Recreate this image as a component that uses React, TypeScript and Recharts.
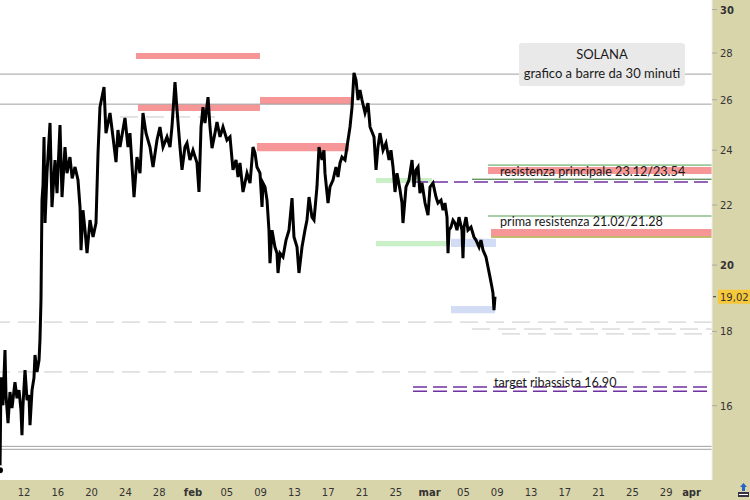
import React from "react";
import {
  ComposedChart,
  Line,
  XAxis,
  YAxis,
  CartesianGrid,
  ReferenceLine,
  ReferenceArea,
} from "recharts";

// time is in days from 1 Jan 2023 00:00 (Jan 12 = 11)
const xDomain: [number, number] = [8.16, 92.42];
const yDomain: [number, number] = [14.22, 30.46];

const xTickDays = [11, 15, 19, 23, 27, 31, 35, 39, 43, 47, 51, 55, 59, 63, 67, 71, 75, 79, 83, 87, 90];
const xTickLabels = ["12", "16", "20", "24", "28", "feb", "05", "09", "13", "17", "21", "25", "mar", "05", "09", "13", "17", "21", "25", "29", "apr"];
const yTicks = [16, 18, 20, 22, 24, 26, 28, 30];
const boldYTicks = [20, 30];
const lastPrice = 19.02;

// SOL 30 minute bars, traced as [day, price]
const solPrice: [number, number][] = [
  [8.16, 14.44], [8.28, 16.74], [8.51, 16.01], [8.75, 17.48], [8.87, 16.27], [9.11, 15.56],
  [9.34, 16.35], [9.58, 15.94], [9.93, 16.61], [10.17, 16.19], [10.41, 16.4], [10.64, 15.89],
  [10.76, 15.27], [10.88, 16.01], [11.12, 16.93], [11.36, 16.14], [11.59, 16.27], [11.71, 15.51],
  [11.95, 16.4], [12.18, 16.72], [12.3, 17.34], [12.54, 16.88], [12.78, 17.2], [12.89, 17.76],
  [13.01, 18.92], [13.13, 22.17], [13.25, 22.71], [13.37, 24.51], [13.49, 21.38], [13.72, 23.14],
  [14.08, 25.06], [14.31, 21.93], [14.67, 23.63], [14.91, 22.42], [15.26, 24.98], [15.5, 22.28],
  [15.85, 24.12], [16.09, 23.14], [16.44, 23.74], [16.7, 22.95], [17.04, 23.37], [17.39, 22.89], [17.63, 21.93],
  [17.75, 20.48], [17.98, 21.82], [18.22, 21.14], [18.46, 20.38], [18.81, 21.48], [19.17, 20.91],
  [19.52, 21.38], [19.76, 23.89], [19.99, 25.7], [20.47, 26.53], [20.7, 24.66], [21.18, 25.46],
  [21.53, 24.51], [21.89, 23.55], [22.12, 24.78], [22.36, 24.12], [22.95, 25.26], [23.31, 24.12],
  [23.54, 24.66], [24.02, 22.28], [24.37, 23.74], [24.73, 23.14], [25.08, 25.46], [25.44, 24.66],
  [25.91, 24.12], [26.27, 23.37], [26.74, 24.39], [27.09, 24.9], [27.45, 24.12], [27.92, 24.51],
  [28.28, 24.12], [28.51, 24.9], [28.87, 26.74], [29.11, 25.58], [29.46, 24.12], [29.7, 23.26],
  [30.05, 24.12], [30.29, 24.27], [30.64, 23.63], [31.0, 24.0], [31.47, 23.52], [31.71, 22.46],
  [31.95, 24.9], [32.18, 25.7], [32.42, 25.06], [32.78, 26.11], [33.01, 24.9], [33.25, 24.08],
  [33.6, 24.66], [33.84, 25.1], [34.2, 24.51], [34.55, 24.9], [35.02, 24.39], [35.38, 24.51],
  [35.73, 23.26], [36.09, 23.63], [36.33, 23.0], [36.56, 23.52], [36.92, 22.46], [37.39, 23.14],
  [37.75, 22.78], [38.1, 24.12], [38.34, 23.89], [38.57, 23.37], [38.93, 23.14], [39.17, 21.93],
  [39.28, 22.78], [39.52, 22.64], [39.76, 22.17], [39.99, 21.14], [40.11, 20.06], [40.35, 21.14],
  [40.7, 20.58], [40.94, 20.38], [41.06, 19.75], [41.3, 20.38], [41.65, 20.26], [42.01, 20.81],
  [42.36, 21.14], [42.72, 22.24], [42.95, 20.91], [43.31, 20.58], [43.54, 19.75], [43.9, 20.58],
  [44.25, 21.14], [44.49, 21.48], [44.73, 22.28], [45.08, 21.58], [45.32, 21.48], [45.67, 22.64],
  [45.91, 24.12], [46.27, 23.63], [46.5, 24.0], [46.62, 23.14], [46.98, 22.07], [47.21, 22.64],
  [47.57, 22.89], [47.92, 23.37], [48.16, 23.0], [48.4, 23.52], [48.63, 23.74], [48.99, 23.63],
  [49.22, 24.12], [49.58, 24.9], [49.82, 25.7], [50.05, 27.13], [50.29, 26.83], [50.53, 25.99],
  [50.76, 26.4], [51.0, 25.99], [51.36, 25.46], [51.71, 25.86], [51.95, 24.9], [52.42, 24.51],
  [52.66, 23.26], [52.89, 24.12], [53.13, 24.66], [53.49, 24.0], [53.84, 24.27], [54.2, 23.63],
  [54.43, 24.0], [54.67, 23.37], [54.91, 22.46], [55.14, 23.14], [55.5, 22.53], [55.73, 22.07],
  [55.85, 21.38], [56.21, 22.64], [56.56, 22.89], [56.92, 23.63], [57.15, 22.64], [57.39, 23.26],
  [57.63, 23.37], [57.86, 22.42], [58.1, 22.78], [58.46, 22.07], [58.81, 21.65], [59.05, 22.64],
  [59.4, 22.78], [59.76, 22.28], [59.99, 22.07], [60.35, 22.17], [60.59, 21.82], [60.82, 22.07],
  [61.06, 21.58], [61.18, 20.38], [61.3, 21.14], [61.53, 21.24], [61.77, 21.48], [62.01, 21.38],
  [62.24, 21.14], [62.48, 21.58], [62.83, 21.14], [62.95, 20.22], [63.07, 21.24], [63.31, 21.58],
  [63.54, 21.14], [63.9, 21.24], [64.25, 20.91], [64.49, 20.81], [64.85, 20.58], [65.08, 20.81],
  [65.32, 20.48], [65.67, 20.26], [65.91, 19.94], [66.15, 19.62], [66.38, 19.31], [66.5, 19.13],
  [66.62, 18.62], [66.74, 19.02],
];

// full width horizontal levels
const grayLevels = [27.08, 25.82, 15.0, 14.93];
const dashedLevels = [18.27, 16.88];
// partial levels: [from day, to day, price]
const shortDashed: [number, number, number][] = [
  [22.36, 33.6, 25.3],
  [64.02, 92.42, 18.07],
  [67.57, 92.42, 17.93],
];
const greenLevels: [number, number][] = [[65.91, 23.44], [65.91, 21.62]];
const darkGreenLevels: [number, number][] = [[64.02, 22.92]];
const oliveLevels: [number, number][] = [[66.27, 20.91]];
const purpleLevels: [number, number][] = [[57.15, 22.82], [57.04, 16.48], [57.04, 16.37]];

// zones: [from day, to day, low, high]
const redZones: [number, number, number, number][] = [
  [24.25, 38.93, 27.74, 28.0],
  [24.49, 38.93, 25.54, 25.82],
  [38.93, 50.05, 25.82, 26.11],
  [38.57, 49.46, 23.96, 24.28],
  [65.91, 92.42, 23.11, 23.37],
  [66.27, 92.42, 20.94, 21.18],
];
const greenZones: [number, number, number, number][] = [
  [52.66, 59.28, 22.78, 22.96],
  [52.66, 61.06, 20.61, 20.78],
];
const blueZones: [number, number, number, number][] = [
  [61.53, 66.86, 20.58, 20.85],
  [61.53, 66.74, 18.53, 18.74],
];
// text notes: band the note is centred in
const notes = [
  { from: 65.91, low: 23.0, high: 23.37, text: "resistenza principale 23.12/23.54" },
  { from: 65.91, low: 21.28, high: 21.58, text: "prima resistenza 21.02/21.28" },
  { from: 66.62, low: 16.5, high: 16.72, text: "target ribassista 16.90" },
];

const data = solPrice.map(([t, p]) => ({ t, p }));

const noteFont = "Lato, 'Open Sans', sans-serif";
const axisFont = "'DejaVu Sans', Verdana, sans-serif";

const XTick = (props: any) => {
  const { x, y, payload } = props;
  const i = xTickDays.indexOf(payload.value);
  const label = xTickLabels[i] ?? "";
  const isMonth = isNaN(Number(label));
  return (
    <text x={x} y={y} dy={14} textAnchor="middle" fontSize={10} fontFamily={axisFont} fill="#333" fontWeight={isMonth ? "bold" : "normal"}>
      {label}
    </text>
  );
};

const YTick = (props: any) => {
  const { x, y, payload } = props;
  return (
    <text x={x} y={y} dy={4} textAnchor="start" fontSize={10} fontFamily={axisFont} fill="#333" fontWeight={boldYTicks.includes(payload.value) ? "bold" : "normal"}>
      {payload.value}
    </text>
  );
};

const PriceTag = (props: any) => {
  const vb = props.viewBox || {};
  const x = vb.x + vb.width;
  const y = vb.y;
  return (
    <g>
      <line x1={x + 1} x2={x + 4} y1={y} y2={y} stroke="#333" />
      <rect x={x + 6} y={y - 7} width={32} height={14} fill="#f6c83a" />
      <text x={x + 8} y={y + 4} fontSize={10} fontFamily={axisFont} fill="#333">
        {lastPrice.toFixed(2).replace(".", ",")}
      </text>
    </g>
  );
};

export default function App() {
  return (
    <div style={{ position: "absolute", left: 0, top: 0, width: 750, height: 500, background: "#d9d5ab" }}>
      <ComposedChart width={750} height={500} data={data} margin={{ top: 0, right: 0, bottom: 0, left: 0 }}>
        <CartesianGrid fill="#ffffff" horizontal={false} vertical={false} />
        <XAxis
          dataKey="t"
          type="number"
          domain={xDomain}
          allowDataOverflow
          ticks={xTickDays}
          tick={<XTick />}
          tickLine={false}
          axisLine={false}
          tickSize={0}
          height={20}
          interval={0}
        />
        <YAxis
          orientation="right"
          type="number"
          scale="log"
          domain={yDomain}
          allowDataOverflow
          ticks={yTicks}
          tick={<YTick />}
          tickSize={5}
          tickMargin={3}
          tickLine={{ stroke: "#aaa" }}
          axisLine={{ stroke: "#eeeeee" }}
          width={38}
          interval={0}
        />

        {grayLevels.map((v) => (
          <ReferenceLine key={"gl" + v} y={v} stroke="#a0a0a0" strokeWidth={1} />
        ))}
        {dashedLevels.map((v) => (
          <ReferenceLine key={"dl" + v} y={v} stroke="#c8c8c8" strokeDasharray="18 8" />
        ))}
        {shortDashed.map(([a, b, v]) => (
          <ReferenceLine key={"sd" + v} segment={[{ x: a, y: v }, { x: b, y: v }]} stroke="#c8c8c8" strokeDasharray="18 8" />
        ))}

        {redZones.map(([a, b, lo, hi], i) => (
          <ReferenceArea key={"r" + i} x1={a} x2={b} y1={lo} y2={hi} fill="#f79696" fillOpacity={1} stroke="none" />
        ))}
        {greenZones.map(([a, b, lo, hi], i) => (
          <ReferenceArea key={"g" + i} x1={a} x2={b} y1={lo} y2={hi} fill="#c9f0c6" fillOpacity={1} stroke="none" />
        ))}
        {blueZones.map(([a, b, lo, hi], i) => (
          <ReferenceArea key={"b" + i} x1={a} x2={b} y1={lo} y2={hi} fill="#d3dcf5" fillOpacity={1} stroke="none" />
        ))}

        {greenLevels.map(([a, v]) => (
          <ReferenceLine key={"gr" + v} segment={[{ x: a, y: v }, { x: xDomain[1], y: v }]} stroke="#4f9f4f" />
        ))}
        {darkGreenLevels.map(([a, v]) => (
          <ReferenceLine key={"dg" + v} segment={[{ x: a, y: v }, { x: xDomain[1], y: v }]} stroke="#2a6e2a" />
        ))}
        {oliveLevels.map(([a, v]) => (
          <ReferenceLine key={"ol" + v} segment={[{ x: a, y: v }, { x: xDomain[1], y: v }]} stroke="#b0a640" strokeWidth={1.5} />
        ))}
        {purpleLevels.map(([a, v]) => (
          <ReferenceLine key={"pl" + v} segment={[{ x: a, y: v }, { x: xDomain[1], y: v }]} stroke="#7030a0" strokeWidth={1.5} strokeDasharray="14 6" />
        ))}

        {notes.map((n) => (
          <ReferenceArea
            key={n.text}
            x1={n.from}
            x2={xDomain[1]}
            y1={n.low}
            y2={n.high}
            fill="none"
            stroke="none"
            label={{ value: n.text, position: "insideLeft", offset: n.from === 66.62 ? 0 : 12, fill: "#1a1a1a", fontSize: 12.6, fontFamily: noteFont }}
          />
        ))}

        <Line
          dataKey="p"
          type="linear"
          stroke="#000"
          strokeWidth={3}
          dot={false}
          isAnimationActive={false}
        />

        <ReferenceLine y={lastPrice} stroke="none" label={<PriceTag />} />
      </ComposedChart>

      <div
        style={{
          position: "absolute",
          left: 519,
          top: 43,
          width: 166,
          height: 43,
          background: "#e9e9e9",
          borderRadius: 3,
          fontFamily: noteFont,
          fontSize: 13,
          color: "#1a1a1a",
          textAlign: "center",
          lineHeight: "19px",
          paddingTop: 2,
          boxSizing: "border-box",
        }}
      >
        <div>SOLANA</div>
        <div>grafico a barre da 30 minuti</div>
      </div>

      <svg style={{ position: "absolute", left: 737, top: 482 }} width={13} height={17}>
        <path d="M6.5 1 L10 5 L8 5 L8 9 L5 9 L5 5 L3 5 Z" fill="#2a63c8" />
        <rect x={1} y={10} width={11} height={5} fill="#334" />
        <rect x={2} y={12} width={9} height={1} fill="#fff" strokeDasharray="1 1" />
      </svg>
    </div>
  );
}
